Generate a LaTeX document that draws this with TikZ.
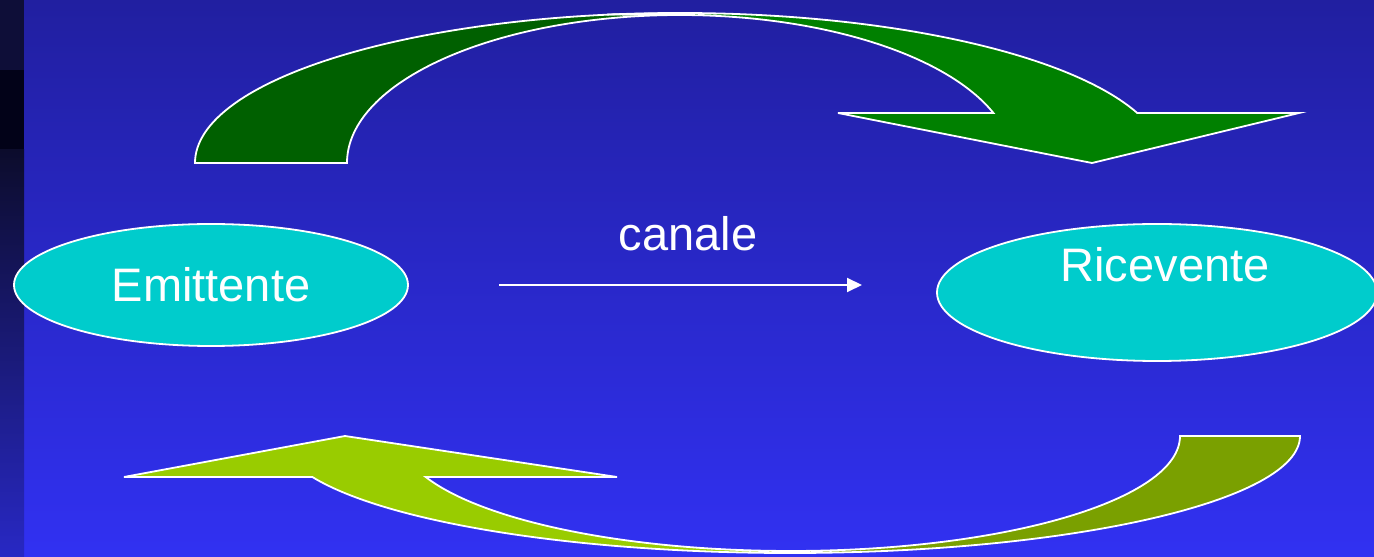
\documentclass[tikz,border=0pt]{standalone}
\usepackage{fontspec}
\setmainfont{Liberation Sans}
\usetikzlibrary{shapes.geometric,arrows.meta}

\definecolor{bgtop}{RGB}{33,31,160}
\definecolor{bgbottom}{RGB}{49,49,242}
\definecolor{stripdark}{RGB}{14,14,56}
\definecolor{stripblack}{RGB}{2,2,24}
\definecolor{striptop}{RGB}{12,12,44}
\definecolor{stripbottom}{RGB}{40,40,196}
\definecolor{ovalfill}{RGB}{0,204,204}
\definecolor{greendark}{RGB}{0,96,0}
\definecolor{greenlight}{RGB}{0,128,0}
\definecolor{limelight}{RGB}{153,204,0}
\definecolor{limedark}{RGB}{122,160,0}

\tikzset{
    oval/.style={ellipse, draw=white, line width=1.8pt, fill=ovalfill, inner sep=0pt},
    lbl/.style={text=white, anchor=base, font=\fontsize{47}{56}\selectfont},
    bigarrow/.style={draw=white, line width=1.8pt, line join=miter}
}

\begin{document}
\begin{tikzpicture}[x=1pt, y=1pt]
    \useasboundingbox (0,0) rectangle (1374,557);
    % background
    \shade[top color=bgtop, bottom color=bgbottom] (24,0) rectangle (1374,557);
    \fill[stripdark] (0,487) rectangle (24,557);
    \fill[stripblack] (0,407) rectangle (24,487);
    \shade[top color=striptop, bottom color=stripbottom] (0,0) rectangle (24,407);

    % curved arrow on top
    \filldraw[bigarrow, fill=greendark] (195,394)
        arc[start angle=180, end angle=90, x radius=485pt, y radius=150pt]
        -- (680,542)
        arc[start angle=90, end angle=180, x radius=333pt, y radius=148pt]
        -- cycle;
    \filldraw[bigarrow, fill=greenlight] (607,542.5) -- (680,544)
        arc[start angle=90, end angle=19.47, x radius=485pt, y radius=150pt]
        -- (1299,444) -- (1092,394) -- (838,444) -- (993.4,444)
        arc[start angle=19.75, end angle=90, x radius=333pt, y radius=148pt]
        -- cycle;

    % curved arrow at the bottom
    \filldraw[bigarrow, fill=limedark] (1300,121)
        arc[start angle=0, end angle=-90, x radius=510pt, y radius=117pt]
        -- (790,6)
        arc[start angle=-90, end angle=0, x radius=390pt, y radius=115pt]
        -- cycle;
    \filldraw[bigarrow, fill=limelight] (790,4)
        arc[start angle=-90, end angle=-159.5, x radius=510pt, y radius=117pt]
        -- (124,80) -- (345,121) -- (617,80) -- (425.7,80)
        arc[start angle=-159.1, end angle=-90, x radius=390pt, y radius=115pt]
        -- cycle;

    % sender and receiver
    \node[oval, minimum width=394pt, minimum height=122pt] (emittente) at (211,272) {};
    \node[lbl] (emittentetxt) at (211,255) {Emittente};
    \node[oval, minimum width=440pt, minimum height=137pt] (ricevente) at (1157,264.5) {};
    \node[lbl] (riceventetxt) at (1165,275) {Ricevente};

    % channel
    \coordinate (canalefrom) at (499,272);
    \coordinate (canaleto) at (862,272);
    \draw[white, line width=2pt, -{Triangle[length=15pt, width=14pt]}] (canalefrom) -- (canaleto);
    \node[lbl] (canale) at (688,306) {canale};
\end{tikzpicture}
\end{document}
